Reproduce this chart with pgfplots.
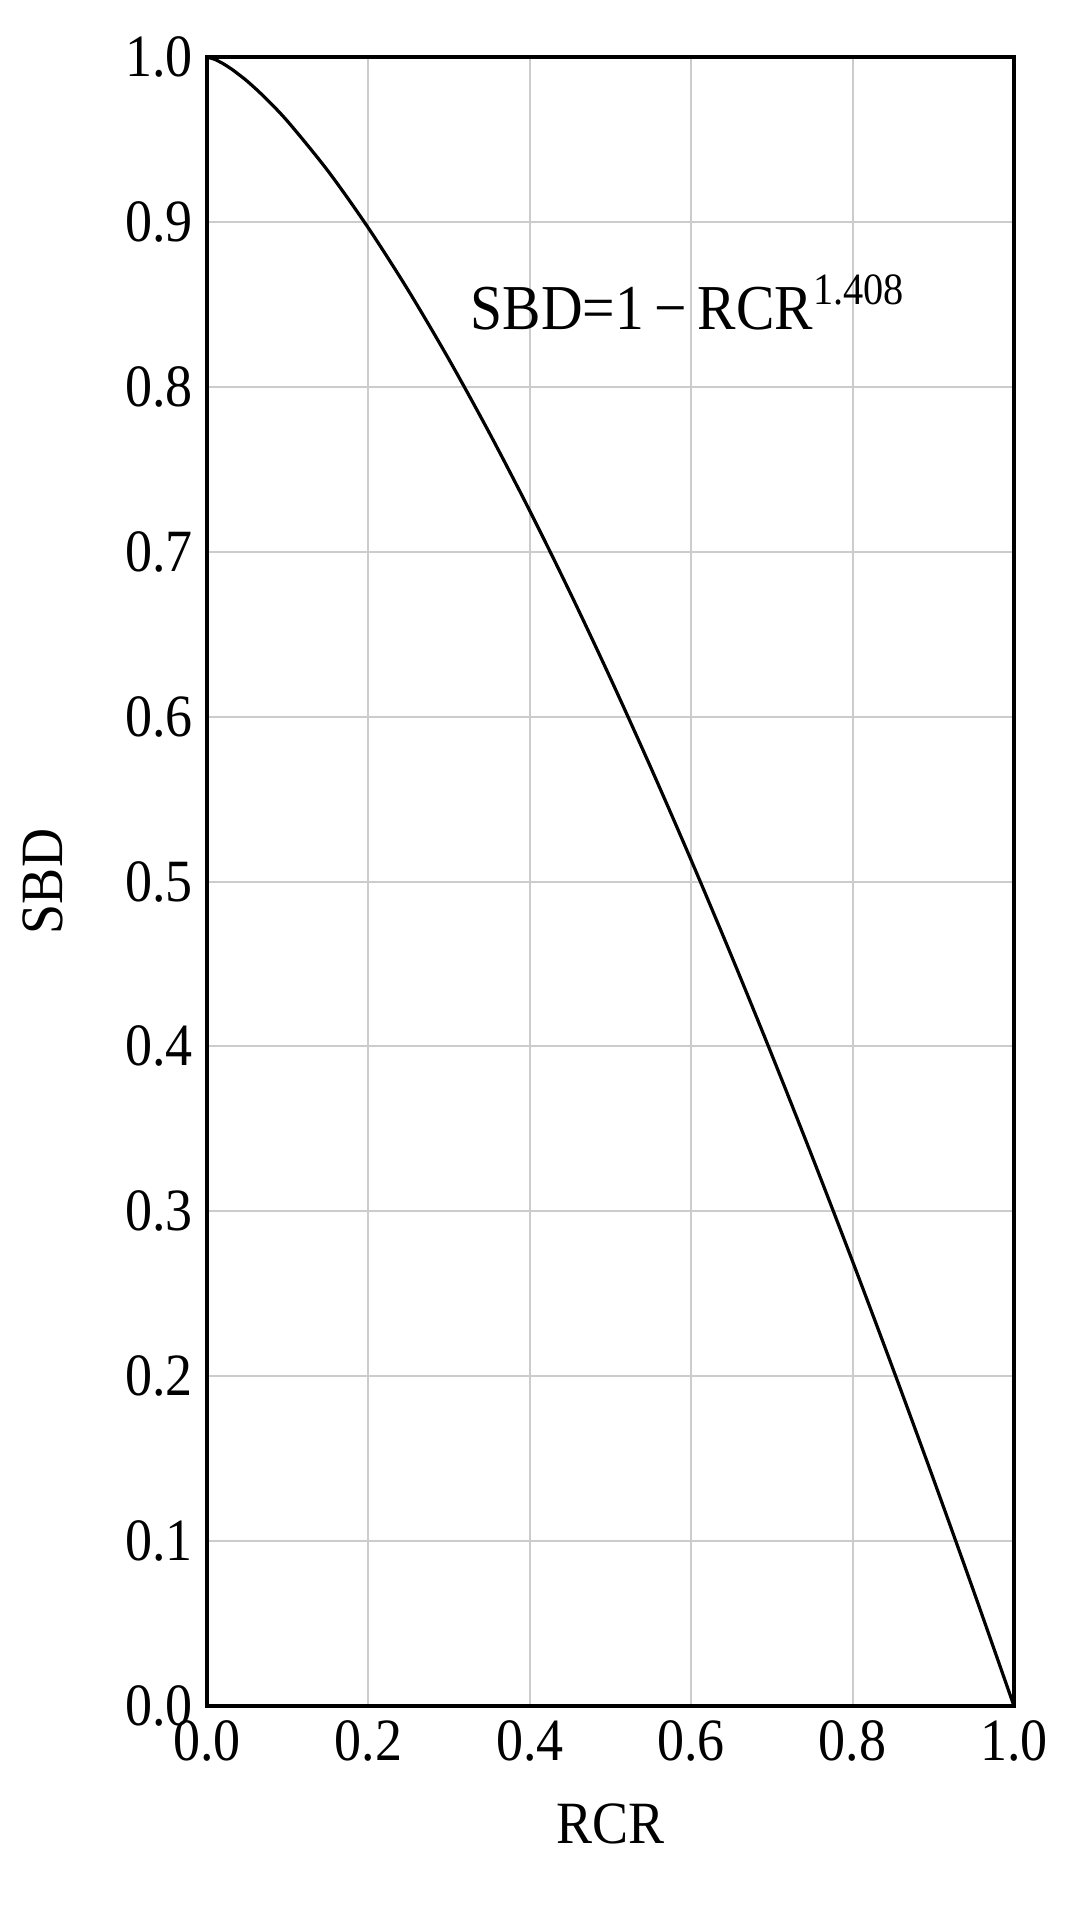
\documentclass[border=0pt]{standalone}
\usepackage{fontspec}
\setmainfont{Liberation Serif}[FakeStretch=0.9]
\usepackage{pgfplots}
\pgfplotsset{compat=1.18}

\begin{document}
\begin{tikzpicture}
\begin{axis}[
  scale only axis,
  width=201.75pt,
  height=412.25pt,
  xmin=0, xmax=1,
  ymin=0, ymax=1,
  xtick={0,0.2,...,1},
  ytick={0,0.1,...,1},
  xticklabel style={/pgf/number format/.cd,fixed,fixed zerofill,precision=1},
  yticklabel style={/pgf/number format/.cd,fixed,fixed zerofill,precision=1},
  /pgf/number format/assume math mode=true,
  tick label style={font=\fontsize{15}{18}\selectfont},
  label style={font=\fontsize{15}{18}\selectfont},
  major tick length=0pt,
  grid=major,
  grid style={gray!40, line width=0.5pt},
  axis line style={line width=1.2pt},
  xlabel={RCR},
  ylabel={SBD},
  xlabel style={at={(axis description cs:0.5,-0.0716)}, anchor=center},
  ylabel style={at={(axis description cs:-0.203,0.5)}, anchor=center},
  clip=false,
]
% SBD = 1 - RCR^1.408
\addplot[black, line width=0.8pt, smooth] coordinates {
  (0.00,1.00000) (0.01,0.99847) (0.02,0.99594) (0.03,0.99282)
  (0.04,0.98916) (0.05,0.98527) (0.07,0.97626) (0.10,0.96092)
  (0.15,0.93083) (0.20,0.89628) (0.25,0.85800)
  (0.30,0.81644) (0.35,0.77194) (0.40,0.72477) (0.45,0.67512)
  (0.50,0.62317) (0.55,0.56905) (0.60,0.51288) (0.65,0.45477)
  (0.70,0.39480) (0.75,0.33306) (0.80,0.26962) (0.85,0.20454)
  (0.90,0.13787) (0.95,0.06967) (1.00,0.00000)
};
\node[anchor=west, font=\fontsize{16}{19}\selectfont, inner sep=0pt]
  at (axis cs:0.326,0.851) {SBD=1\,−\,RCR\textsuperscript{1.408}};
\coordinate (bl) at (rel axis cs:0,0);
\coordinate (tr) at (rel axis cs:1,1);
\end{axis}
\pgfresetboundingbox
\path ([shift={(-51.75pt,-51pt)}]bl) rectangle ([shift={(17pt,14.25pt)}]tr);
\end{tikzpicture}
\end{document}
